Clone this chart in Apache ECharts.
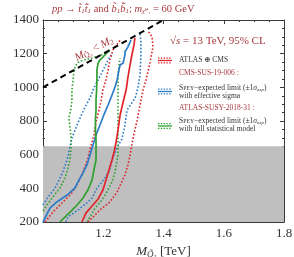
<!DOCTYPE html>
<html><head><meta charset="utf-8">
<script src="https://cdn.jsdelivr.net/npm/echarts@6/dist/echarts.min.js"></script>
<style>html,body{margin:0;padding:0;background:#fff}#c{width:294px;height:257px}</style>
</head><body><div id="c"></div>
<script>
// ---------- data (x in TeV, y in GeV) ----------
const xTickLabels = [1.2, 1.4, 1.6, 1.8];
const yTickLabels = [200, 400, 600, 800, 1000, 1200, 1400];
const excludedBand = [200, 650];
const boundaryLine = [[1.0, 1000], [1.4, 1400]];

// ATLAS (+) CMS combination (red)
const combNominal = [[1.129,200],[1.143,254],[1.163,295],[1.183,337],[1.199,390],[1.209,450],[1.219,509],[1.229,568],[1.236,616],[1.242,669],[1.249,747],[1.256,836],[1.266,913],[1.276,984],[1.282,1061],[1.289,1133],[1.295,1192],[1.302,1251],[1.305,1293]];
const combUp = [[1.007,200],[1.033,259],[1.063,313],[1.096,372],[1.116,432],[1.133,497],[1.149,580],[1.159,652],[1.169,717],[1.176,794],[1.186,865],[1.193,925],[1.199,984],[1.209,1044],[1.216,1103],[1.222,1162],[1.232,1222],[1.249,1263],[1.258,1285]];
const combDown = [[1.149,200],[1.166,230],[1.189,271],[1.222,319],[1.246,378],[1.272,479],[1.282,539],[1.289,598],[1.299,699],[1.312,800],[1.322,895],[1.332,984],[1.342,1044],[1.355,1145],[1.365,1240],[1.362,1299],[1.349,1335]];

// CMS-SUS-19-006, effective sigma (blue)
const cmsNominal = [[1.000,200],[1.023,283],[1.046,319],[1.080,360],[1.106,402],[1.116,438],[1.129,479],[1.146,539],[1.156,598],[1.166,657],[1.176,717],[1.189,776],[1.202,836],[1.216,895],[1.229,954],[1.239,1002],[1.246,1044],[1.252,1103],[1.256,1133],[1.266,1145],[1.272,1192],[1.272,1210],[1.282,1240],[1.292,1281]];
const cmsUp = [[1.000,301],[1.017,349],[1.040,402],[1.060,473],[1.073,533],[1.083,592],[1.090,652],[1.096,699],[1.113,776],[1.133,859],[1.156,937],[1.169,996],[1.186,1055],[1.203,1115],[1.216,1162],[1.226,1192]];
const cmsDown = [[1.076,200],[1.083,230],[1.116,271],[1.146,314],[1.163,343],[1.179,402],[1.196,438],[1.219,499],[1.229,568],[1.245,640],[1.262,693],[1.272,776],[1.279,865],[1.306,937],[1.315,996],[1.322,1074],[1.325,1192],[1.325,1281],[1.322,1318]];

// ATLAS-SUSY-2018-31, full statistical model (green)
const atlasNominal = [[1.056,200],[1.070,224],[1.090,259],[1.113,301],[1.133,343],[1.149,390],[1.163,450],[1.169,509],[1.176,568],[1.176,628],[1.176,687],[1.174,747],[1.174,806],[1.176,865],[1.176,925],[1.178,984],[1.179,1044],[1.179,1103],[1.183,1145],[1.189,1162],[1.199,1180],[1.212,1204],[1.222,1222]];
const atlasUp = [[1.000,265],[1.013,301],[1.033,349],[1.056,402],[1.073,461],[1.083,521],[1.090,580],[1.093,640],[1.093,699],[1.090,758],[1.086,818],[1.093,877],[1.096,925],[1.096,984],[1.100,1044],[1.103,1103],[1.113,1145],[1.133,1162],[1.163,1174],[1.183,1186],[1.203,1198],[1.219,1216]];
const atlasDown = [[1.146,200],[1.156,230],[1.173,283],[1.196,331],[1.212,378],[1.229,438],[1.239,497],[1.249,598],[1.249,687],[1.249,806],[1.249,925],[1.249,1044],[1.252,1133],[1.256,1174]];

// ---------- styling ----------
const RED = '#e0242c', BLUE = '#2c7cc8', GREEN = '#2fa030', DARK = '#a8393c';
const SERIF = '"Liberation Serif", "DejaVu Serif", serif';
const AX = '#3a3a3a';

function solid(name, data, color) {
  return {name, type:'line', data, showSymbol:false, silent:true, z:3,
    lineStyle:{color, width:1.7}};
}
function dotted(name, data, color) {
  return {name, type:'line', data, showSymbol:false, silent:true, z:2,
    lineStyle:{color, width:1.6, type:[1.6,1.9]}};
}

const chart = echarts.init(document.getElementById('c'), null, {renderer:'canvas'});

const axisCommon = {
  axisLine:{show:true, onZero:false, lineStyle:{color:AX, width:1}},
  axisTick:{show:true, inside:true, length:4, lineStyle:{color:AX}},
  minorTick:{show:true, splitNumber:4, length:2, lineStyle:{color:AX}},
  splitLine:{show:false}
};

const legendItems = [];
function icon(y, color) {
  const x0 = 158, x1 = 172;
  legendItems.push({type:'line', shape:{x1:x0,y1:y-2.4,x2:x1,y2:y-2.4}, style:{stroke:color, lineWidth:1.3, lineDash:[1.4,1.4]}, silent:true});
  legendItems.push({type:'line', shape:{x1:x0,y1:y,x2:x1,y2:y}, style:{stroke:color, lineWidth:1.3}, silent:true});
  legendItems.push({type:'line', shape:{x1:x0,y1:y+2.4,x2:x1,y2:y+2.4}, style:{stroke:color, lineWidth:1.3, lineDash:[1.4,1.4]}, silent:true});
}
function txt(x, y, text, color, size, rich, extra) {
  legendItems.push(Object.assign({type:'text', x, y, silent:true, style:{text, fill:color, fontFamily:SERIF, fontSize:size, verticalAlign:'middle', align:'left', rich}}, extra||{}));
}
const speyRich = {
  b:{fontFamily:SERIF, fontSize:7.5, fill:'#333'},
  s:{fontFamily:SERIF, fontSize:5.8, fill:'#333'},
  i:{fontFamily:SERIF, fontSize:7.5, fontStyle:'italic', fill:'#333'},
  sub:{fontFamily:SERIF, fontSize:5, fontStyle:'italic', fill:'#333', padding:[4,0,0,0]}
};
icon(60.5, RED);
txt(179, 60.5, 'ATLAS ⊕ CMS', '#333', 7.5);
txt(179, 73, 'CMS-SUS-19-006 :', DARK, 7.5);
icon(91.5, BLUE);
txt(179, 88, '{b|S}{s|PEY}{b|−expected limit (±1}{i|σ}{sub|exp}{b|)}', '#333', 7.5, speyRich);
txt(179, 96, 'with effective sigma', '#333', 7.5);
txt(179, 108, 'ATLAS-SUSY-2018-31 :', DARK, 7.5);
icon(126, GREEN);
txt(179, 121, '{b|S}{s|PEY}{b|−expected limit (±1}{i|σ}{sub|exp}{b|)}', '#333', 7.5, speyRich);
txt(179, 129, 'with full statistical model', '#333', 7.5);
// sqrt(s)
txt(170, 41, '{i|√s} = 13 TeV, 95% CL', DARK, 11, {i:{fontFamily:SERIF, fontSize:11, fontStyle:'italic', fill:DARK}});
// title
txt(52, 9, '{i|pp} → {i|t̃}{sub|1}{i|t̃̄}{sub|1} and {i|b̃}{sub|1}{i|b̃̄}{sub|1}; {i|m}{sub|χ̃⁰₁} = 60 GeV', DARK, 10.5,
  {i:{fontFamily:SERIF, fontSize:10.5, fontStyle:'italic', fill:DARK},
   sub:{fontFamily:SERIF, fontSize:7, fontStyle:'italic', fill:DARK, padding:[5,0,0,0]}});
// annotation along boundary
legendItems.push({type:'text', x:94, y:49, rotation:27*Math.PI/180, silent:true,
  style:{text:'{i|M}{sub|Q̃₃} < {i|M}{sub|2}', fill:DARK, fontFamily:SERIF, fontSize:11, align:'center', verticalAlign:'middle',
    rich:{i:{fontFamily:SERIF, fontSize:11, fontStyle:'italic', fill:DARK}, sub:{fontFamily:SERIF, fontSize:7.5, fill:DARK, padding:[5,0,0,0]}}}});

chart.setOption({
  animation:false,
  backgroundColor:'#fff',
  grid:{left:43, right:10, top:20, bottom:35, containLabel:false, outerBoundsMode:'none'},
  xAxis:[
    Object.assign({type:'value', min:1.0, max:1.8, interval:0.2, position:'bottom',
      axisLabel:{fontFamily:SERIF, fontSize:13, color:'#333', margin:5,
        formatter:v => xTickLabels.some(t => Math.abs(t - v) < 1e-6) ? v.toFixed(1) : ''},
      name:'{i|M}{sub|Q̃₃} [TeV]', nameLocation:'middle', nameGap:20,
      nameTextStyle:{fontFamily:SERIF, fontSize:13, color:'#333',
        rich:{i:{fontFamily:SERIF, fontSize:13, fontStyle:'italic', color:'#333'}, sub:{fontFamily:SERIF, fontSize:9, fontStyle:'italic', color:'#333', padding:[6,0,0,0]}}}
    }, axisCommon),
    Object.assign({type:'value', min:1.0, max:1.8, interval:0.2, position:'top', axisLabel:{show:false}}, axisCommon)
  ],
  yAxis:[
    Object.assign({type:'value', min:200, max:1400, interval:200, position:'left',
      axisLabel:{fontFamily:SERIF, fontSize:13, color:'#333', margin:4,
        formatter:v => yTickLabels.includes(v) ? String(v) : ''},
      name:'{i|M}{sub|2} [GeV]', nameLocation:'middle', nameGap:27, nameRotate:90,
      nameTextStyle:{fontFamily:SERIF, fontSize:13, color:'#333',
        rich:{i:{fontFamily:SERIF, fontSize:13, fontStyle:'italic', color:'#333'}, sub:{fontFamily:SERIF, fontSize:9, color:'#333', padding:[6,0,0,0]}}}
    }, axisCommon),
    Object.assign({type:'value', min:200, max:1400, interval:200, position:'right', axisLabel:{show:false}}, axisCommon)
  ],
  series:[
    {name:'excluded', type:'line', data:[], z:0, silent:true,
      markArea:{silent:true, itemStyle:{color:'#bfbfbf'}, data:[[{yAxis:excludedBand[0]},{yAxis:excludedBand[1]}]]}},
    {name:'boundary', type:'line', data:boundaryLine, showSymbol:false, silent:true, z:4,
      lineStyle:{color:'#000', width:2, type:[6,4]}},
    dotted('cmsUp', cmsUp, BLUE), dotted('cmsDown', cmsDown, BLUE),
    dotted('atlasUp', atlasUp, GREEN), dotted('atlasDown', atlasDown, GREEN),
    dotted('combUp', combUp, RED), dotted('combDown', combDown, RED),
    solid('cmsNominal', cmsNominal, BLUE),
    solid('atlasNominal', atlasNominal, GREEN),
    solid('combNominal', combNominal, RED)
  ],
  graphic:legendItems
});
</script></body></html>
